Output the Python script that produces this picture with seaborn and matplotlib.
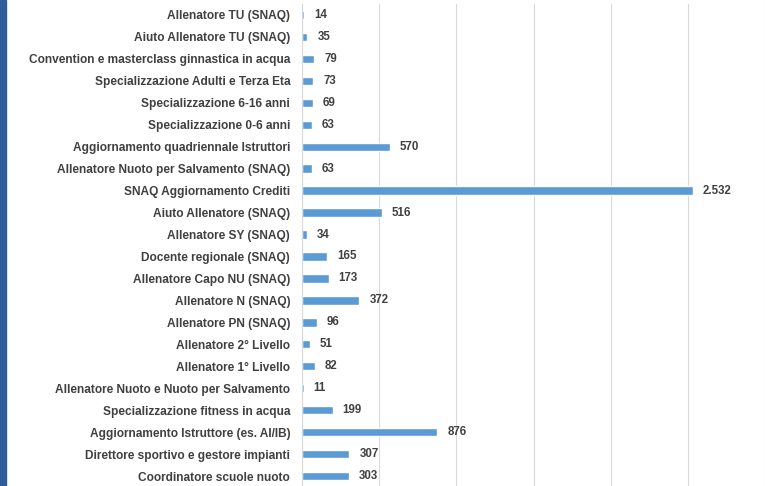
import matplotlib
matplotlib.use("Agg")
import matplotlib.pyplot as plt
import numpy as np
import pandas as pd
import seaborn as sns

# Data (top to bottom as in the chart)
corsi = [
    "Allenatore TU (SNAQ)",
    "Aiuto Allenatore TU (SNAQ)",
    "Convention e masterclass ginnastica in acqua",
    "Specializzazione Adulti e Terza Eta",
    "Specializzazione 6-16 anni",
    "Specializzazione 0-6 anni",
    "Aggiornamento quadriennale Istruttori",
    "Allenatore Nuoto per Salvamento (SNAQ)",
    "SNAQ Aggiornamento Crediti",
    "Aiuto Allenatore (SNAQ)",
    "Allenatore SY (SNAQ)",
    "Docente regionale (SNAQ)",
    "Allenatore Capo NU (SNAQ)",
    "Allenatore N (SNAQ)",
    "Allenatore PN (SNAQ)",
    "Allenatore 2° Livello",
    "Allenatore 1° Livello",
    "Allenatore Nuoto e Nuoto per Salvamento",
    "Specializzazione fitness in acqua",
    "Aggiornamento Istruttore (es. AI/IB)",
    "Direttore sportivo e gestore impianti",
    "Coordinatore scuole nuoto",
]
iscritti = [14, 35, 79, 73, 69, 63, 570, 63, 2532, 516, 34, 165, 173, 372,
            96, 51, 82, 11, 199, 876, 307, 303]

df = pd.DataFrame({"corso": corsi, "iscritti": iscritti})

sns.set_theme(style="white")
plt.rcParams['font.family'] = ['Liberation Sans', 'DejaVu Sans']

fig = plt.figure(figsize=(7.72, 4.86), dpi=100)
ax = fig.add_axes([302 / 772, -1 / 486, (765 - 302) / 772, 483 / 486])

sns.barplot(data=df, x="iscritti", y="corso", orient="h", color="#5B9BD5",
            saturation=1, width=0.38, ax=ax)

ax.set_xlim(0, 3000)
ax.set_ylim(len(corsi) - 0.5, -0.5)
ax.set_xticks(np.arange(0, 3001, 500))
ax.xaxis.grid(True, color="#D9D9D9", linewidth=0.8)
ax.set_axisbelow(True)
ax.tick_params(axis="x", length=0, labelbottom=False)
ax.tick_params(axis="y", length=0, pad=8.5, labelsize=8.6, labelcolor="#404040")
for lbl in ax.get_yticklabels():
    lbl.set_fontweight("bold")
ax.set_xlabel("")
ax.set_ylabel("")
for s in ["top", "right", "bottom"]:
    ax.spines[s].set_visible(False)
ax.spines["left"].set_color("#D9D9D9")
ax.spines["left"].set_linewidth(0.8)

# value labels, Italian thousands separator
for i, v in enumerate(iscritti):
    txt = f"{v:,}".replace(",", ".")
    ax.text(v + 65, i, txt, va="center", ha="left", fontsize=8.3,
            fontweight="bold", color="#404040")

# dark blue strip on the left edge
fig.patches.append(plt.Rectangle((0, 0), 6 / 772, 1, transform=fig.transFigure,
                                 color="#2F5D9B", zorder=0))

fig.savefig("out.png", dpi=100, facecolor="white")
